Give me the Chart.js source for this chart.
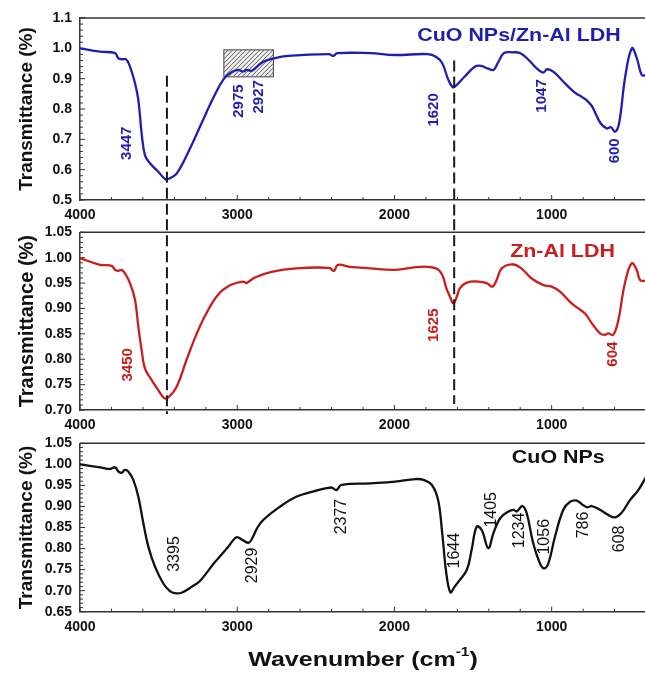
<!DOCTYPE html>
<html>
<head>
<meta charset="utf-8">
<script src="https://cdn.jsdelivr.net/npm/chart.js@4.4.1/dist/chart.umd.min.js"></script>
<style>
  html, body { margin: 0; padding: 0; background: #fff; overflow: hidden; }
  body { width: 645px; height: 673px; position: relative; }
  canvas { position: absolute; left: 0; }
</style>
</head>
<body>
<canvas id="p1" width="646" height="226" style="top:0"></canvas>
<canvas id="p2" width="646" height="226" style="top:212px"></canvas>
<canvas id="p3" width="646" height="249" style="top:424px"></canvas>
<script>
const FONT = "'Liberation Sans', Arial, sans-serif";

const xTicks = [4000, 3000, 2000, 1000];

// CuO NPs/Zn-Al LDH (blue)
const mixWave = [4000, 3873, 3777, 3756, 3735, 3707, 3682, 3650, 3629, 3608,
  3587, 3555, 3502, 3455, 3428, 3384, 3305, 3227, 3148, 3083,
  3031, 2991, 2965, 2939, 2908, 2874, 2834, 2782, 2677, 2416,
  2390, 2363, 2154, 1997, 1788, 1736, 1696, 1657, 1628, 1605,
  1553, 1487, 1448, 1408, 1370, 1343, 1304, 1251, 1199, 1147,
  1107, 1056, 1029, 990, 925, 873, 847, 809, 780, 745,
  689, 650, 623, 597, 571, 532, 490, 458, 427, 400];
const mixT = [1.0, 0.989, 0.984, 0.967, 0.964, 0.964, 0.94, 0.885, 0.83, 0.72,
  0.648, 0.621, 0.593, 0.568, 0.572, 0.588, 0.665, 0.753, 0.841, 0.901,
  0.923, 0.929, 0.923, 0.929, 0.926, 0.94, 0.956, 0.965, 0.975, 0.981,
  0.975, 0.984, 0.984, 0.978, 0.981, 0.972, 0.951, 0.896, 0.872, 0.879,
  0.907, 0.94, 0.942, 0.934, 0.929, 0.951, 0.984, 0.987, 0.984, 0.962,
  0.94, 0.92, 0.931, 0.923, 0.89, 0.863, 0.852, 0.84, 0.83, 0.81,
  0.753, 0.736, 0.74, 0.725, 0.753, 0.907, 1.0, 0.967, 0.912, 0.912];
const mixTicks = [0.5, 0.6, 0.7, 0.8, 0.9, 1.0, 1.1];
const mixPeaks = [['3447', 3703, 0.687], ['2975', 2992, 0.826], ['2927', 2861, 0.840],
  ['1620', 1748, 0.797], ['1047', 1063, 0.843], ['600', 597, 0.662]];

// Zn-Al LDH (red)
const ldhWave = [4000, 3873, 3798, 3777, 3756, 3735, 3714, 3682, 3650, 3629,
  3608, 3587, 3544, 3502, 3466, 3438, 3385, 3321, 3258, 3200,
  3122, 3043, 2965, 2940, 2926, 2887, 2782, 2625, 2416, 2384,
  2360, 2285, 2154, 1997, 1840, 1736, 1696, 1670, 1645, 1625,
  1605, 1583, 1540, 1467, 1413, 1377, 1350, 1318, 1254, 1201,
  1127, 1053, 1000, 947, 873, 830, 788, 745, 693, 661,
  640, 608, 576, 534, 491, 459, 438, 400];
const ldhT = [0.999, 0.986, 0.984, 0.976, 0.974, 0.976, 0.969, 0.950, 0.917, 0.864,
  0.818, 0.782, 0.759, 0.739, 0.724, 0.725, 0.746, 0.800, 0.850, 0.888,
  0.927, 0.946, 0.953, 0.950, 0.953, 0.961, 0.972, 0.979, 0.980, 0.974,
  0.986, 0.982, 0.979, 0.976, 0.982, 0.979, 0.966, 0.940, 0.922, 0.910,
  0.922, 0.940, 0.951, 0.953, 0.950, 0.943, 0.956, 0.979, 0.987, 0.981,
  0.959, 0.946, 0.943, 0.933, 0.910, 0.900, 0.890, 0.871, 0.851, 0.848,
  0.851, 0.848, 0.877, 0.950, 0.989, 0.976, 0.956, 0.954];
const ldhTicks = [0.70, 0.75, 0.80, 0.85, 0.90, 0.95, 1.00, 1.05];
const ldhPeaks = [['3450', 3693, 0.789], ['1625', 1748, 0.867], ['604', 608, 0.810]];

// CuO NPs (black)
const cuoWave = [4000, 3873, 3809, 3777, 3756, 3735, 3714, 3693, 3661, 3629,
  3597, 3565, 3523, 3470, 3428, 3396, 3354, 3290, 3237, 3148,
  3057, 3005, 2965, 2926, 2900, 2874, 2834, 2730, 2625, 2520,
  2403, 2369, 2337, 2154, 1997, 1866, 1814, 1762, 1722, 1696,
  1670, 1644, 1618, 1594, 1540, 1509, 1477, 1445, 1403, 1371,
  1328, 1275, 1243, 1222, 1186, 1159, 1117, 1075, 1049, 1021,
  979, 926, 883, 841, 799, 771, 745, 693, 640, 598,
  555, 502, 449, 400];
const cuoT = [1.0, 0.993, 0.989, 0.993, 0.983, 0.980, 0.987, 0.983, 0.963, 0.923,
  0.860, 0.804, 0.757, 0.717, 0.699, 0.694, 0.695, 0.709, 0.723, 0.765,
  0.804, 0.827, 0.820, 0.814, 0.828, 0.848, 0.868, 0.899, 0.923, 0.935,
  0.945, 0.939, 0.951, 0.955, 0.959, 0.965, 0.963, 0.951, 0.915, 0.836,
  0.741, 0.696, 0.709, 0.721, 0.749, 0.797, 0.852, 0.844, 0.801, 0.836,
  0.872, 0.888, 0.892, 0.888, 0.901, 0.884, 0.812, 0.765, 0.753, 0.765,
  0.828, 0.892, 0.911, 0.914, 0.903, 0.898, 0.901, 0.892, 0.880, 0.874,
  0.885, 0.915, 0.939, 0.97];
const cuoTicks = [0.65, 0.70, 0.75, 0.80, 0.85, 0.90, 0.95, 1.00, 1.05];
const cuoPeaks = [['3395', 3396, 0.787], ['2929', 2900, 0.760], ['2377', 2337, 0.876],
  ['1644', 1615, 0.795], ['1405', 1381, 0.892], ['1234', 1201, 0.843],
  ['1056', 1042, 0.828], ['786', 799, 0.856], ['608', 565, 0.823]];

const guideWaves = [3447, 1620];

function deco(spec) {
  return {
    id: 'deco',
    beforeDatasetsDraw(chart) {
      const { ctx, chartArea: a, scales: { x, y } } = chart;
      ctx.save();
      ctx.strokeStyle = '#333';
      ctx.lineWidth = 1.5;
      ctx.beginPath();
      ctx.moveTo(a.left, a.top);
      ctx.lineTo(a.right + 2, a.top);
      ctx.stroke();

      // inward tick marks
      ctx.lineWidth = 1;
      ctx.beginPath();
      for (let w = 4000; w >= 400; w -= 200) {
        const px = x.getPixelForValue(w);
        ctx.moveTo(px, a.bottom);
        ctx.lineTo(px, a.bottom - (w % 1000 ? 3 : 5));
      }
      const lo = spec.yTicks[0], hi = spec.yTicks[spec.yTicks.length - 1];
      const n = Math.round((hi - lo) / spec.minor);
      for (let i = 0; i <= n; i++) {
        const py = y.getPixelForValue(lo + i * spec.minor);
        ctx.moveTo(a.left, py);
        ctx.lineTo(a.left + (i % spec.per === 0 ? 5 : 3), py);
      }
      ctx.stroke();

      if (spec.box) {
        const b = spec.box;
        const x0 = x.getPixelForValue(b.from), x1 = x.getPixelForValue(b.to);
        const y0 = y.getPixelForValue(b.high), y1 = y.getPixelForValue(b.low);
        const bw = x1 - x0, bh = y1 - y0;
        ctx.save();
        ctx.beginPath();
        ctx.rect(x0, y0, bw, bh);
        ctx.fillStyle = '#f2f2f2';
        ctx.fill();
        ctx.clip();
        ctx.strokeStyle = '#555';
        ctx.lineWidth = 1;
        ctx.beginPath();
        for (let k = -bh; k < bw; k += 4.5) {
          ctx.moveTo(x0 + k, y1);
          ctx.lineTo(x0 + k + bh, y0);
        }
        ctx.stroke();
        ctx.restore();
        ctx.strokeStyle = '#444';
        ctx.lineWidth = 1;
        ctx.strokeRect(x0, y0, bw, bh);
      }
      ctx.restore();
    },
    afterDatasetsDraw(chart) {
      const { ctx, chartArea: a, scales: { x, y } } = chart;
      ctx.save();

      // dashed guide lines
      if (spec.guides) {
        ctx.strokeStyle = '#1a1a1a';
        ctx.lineWidth = 2;
        ctx.setLineDash([11, 5]);
        guideWaves.forEach((w, i) => {
          const px = x.getPixelForValue(w);
          const g = spec.guides[i];
          const top = g.from != null ? y.getPixelForValue(g.from) : a.top - g.above;
          ctx.beginPath();
          ctx.moveTo(px, top);
          ctx.lineTo(px, a.bottom + g.below);
          ctx.stroke();
        });
        ctx.setLineDash([]);
      }

      // peak labels, rotated
      ctx.fillStyle = spec.color;
      ctx.font = spec.peakFont;
      ctx.textAlign = 'center';
      ctx.textBaseline = 'middle';
      spec.peaks.forEach(([txt, w, t]) => {
        ctx.save();
        ctx.translate(x.getPixelForValue(w), y.getPixelForValue(t));
        ctx.rotate(-Math.PI / 2);
        ctx.fillText(txt, 0, 0);
        ctx.restore();
      });

      // sample name
      ctx.save();
      ctx.translate(x.getPixelForValue(spec.name[1]), y.getPixelForValue(spec.name[2]));
      ctx.scale(1.19, 1);
      ctx.font = 'bold 18px ' + FONT;
      ctx.fillText(spec.name[0], 0, 0);
      ctx.restore();

      if (spec.xTitle) {
        const cx = (a.left + a.right) / 2, cy = a.bottom + 49;
        ctx.save();
        ctx.translate(cx, cy);
        ctx.scale(1.19, 1);
        ctx.fillStyle = '#111';
        ctx.textAlign = 'left';
        const big = 'bold 21px ' + FONT, small = 'bold 13px ' + FONT;
        ctx.font = big;
        const w1 = ctx.measureText('Wavenumber (cm').width;
        const w3 = ctx.measureText(')').width;
        ctx.font = small;
        const w2 = ctx.measureText('-1').width;
        let sx = -(w1 + w2 + w3) / 2;
        ctx.font = big;
        ctx.fillText('Wavenumber (cm', sx, 0);
        ctx.font = small;
        ctx.fillText('-1', sx + w1, -8);
        ctx.font = big;
        ctx.fillText(')', sx + w1 + w2, 0);
        ctx.restore();
      }
      ctx.restore();
    }
  };
}

function makePanel(id, spec) {
  const yt = spec.yTicks;
  return new Chart(document.getElementById(id), {
    type: 'line',
    data: {
      datasets: [{
        data: spec.wave.map((w, i) => ({ x: w, y: spec.t[i] })),
        borderColor: spec.color,
        borderWidth: 2.3,
        pointRadius: 0,
        tension: 0.4,
        fill: false
      }]
    },
    options: {
      responsive: false,
      animation: false,
      events: [],
      layout: { padding: { top: spec.padTop, left: 0, right: 0, bottom: 0 } },
      plugins: { legend: { display: false }, tooltip: { enabled: false } },
      scales: {
        x: {
          type: 'linear', min: 400, max: 4000, reverse: true,
          afterBuildTicks: s => { s.ticks = xTicks.map(v => ({ value: v })); },
          afterFit: s => { s.height = spec.axisH; },
          grid: { drawOnChartArea: false, drawTicks: false },
          border: { color: '#333', width: 1.5 },
          ticks: {
            color: '#111', padding: 7, maxRotation: 0, autoSkip: false,
            font: { family: FONT, size: 14, weight: 'bold' },
            callback: v => String(v)
          }
        },
        y: {
          type: 'linear', min: yt[0], max: yt[yt.length - 1],
          afterBuildTicks: s => { s.ticks = yt.map(v => ({ value: v })); },
          afterFit: s => { s.width = 80; },
          grid: { drawOnChartArea: false, drawTicks: false },
          border: { color: '#333', width: 1.5 },
          ticks: {
            color: '#111', padding: 8,
            font: { family: FONT, size: 14, weight: 'bold' },
            callback: v => v.toFixed(spec.dec)
          },
          title: {
            display: true, text: 'Transmittance (%)', color: '#111',
            font: { family: FONT, size: spec.titleSize, weight: 'bold' },
            padding: { top: 15.5, bottom: 0 }
          }
        }
      }
    },
    plugins: [deco(spec)]
  });
}

makePanel('p1', {
  wave: mixWave, t: mixT, yTicks: mixTicks, dec: 1, minor: 0.02, per: 5,
  color: '#1f1fae', padTop: 18, axisH: 26, titleSize: 19,
  peaks: mixPeaks, peakFont: 'bold 15px ' + FONT,
  name: ['CuO NPs/Zn-Al LDH', 1208, 1.039],
  box: { from: 3085, to: 2770, low: 0.906, high: 0.995 },
  guides: [{ from: 0.91, below: 19 }, { from: 0.96, below: 19 }]
});

makePanel('p2', {
  wave: ldhWave, t: ldhT, yTicks: ldhTicks, dec: 2, minor: 0.01, per: 5,
  color: '#c81e1e', padTop: 20.3, axisH: 28, titleSize: 20,
  peaks: ldhPeaks, peakFont: 'bold 15px ' + FONT,
  name: ['Zn-Al LDH', 931, 1.012],
  guides: [{ above: 13, below: 4 }, { above: 13, below: -6 }]
});

makePanel('p3', {
  wave: cuoWave, t: cuoT, yTicks: cuoTicks, dec: 2, minor: 0.01, per: 5,
  color: '#111111', padTop: 19.3, axisH: 61.3, titleSize: 19,
  peaks: cuoPeaks, peakFont: '16px ' + FONT,
  name: ['CuO NPs', 958, 1.014],
  xTitle: true
});
</script>
</body>
</html>
